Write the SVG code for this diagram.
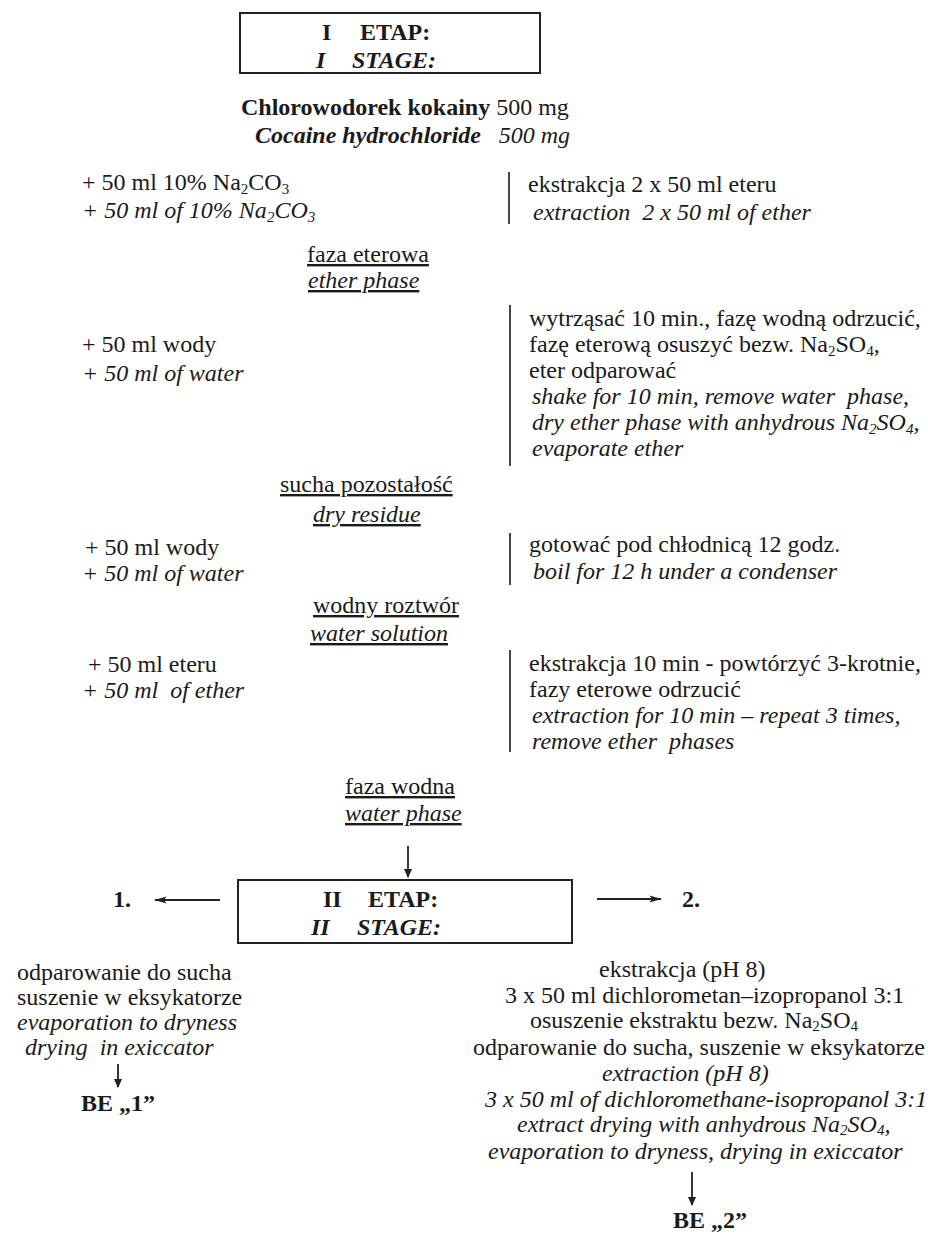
<svg xmlns="http://www.w3.org/2000/svg" width="928" height="1235" viewBox="0 0 928 1235">
<style>
text{font-family:"Liberation Serif","Times New Roman",serif;font-size:24px;fill:#1a1a1a}
.b{font-weight:bold}
.i{font-style:italic}
.u{text-decoration:underline}
.e{text-anchor:end}
.m{text-anchor:middle}
.s{font-size:15px}
.box{fill:none;stroke:#222;stroke-width:2}
.bar{stroke:#333;stroke-width:1.8}
.ln{stroke:#222;stroke-width:1.8;fill:none}
</style>
<defs>
<marker id="ah" viewBox="0 0 14 10" refX="13" refY="5" markerWidth="15" markerHeight="9" orient="auto" markerUnits="userSpaceOnUse">
<path d="M0,1 L14,5 L0,9 L3,5 Z" fill="#222"/>
</marker>
<marker id="ahs" viewBox="0 0 10 10" refX="9" refY="5" markerWidth="10" markerHeight="9" orient="auto" markerUnits="userSpaceOnUse">
<path d="M0,0.5 L10,5 L0,9.5 Z" fill="#222"/>
</marker>
</defs>
<rect width="928" height="1235" fill="#fff"/>

<g id="stage1">
<rect class="box" x="240" y="13" width="300" height="60"/>
<text class="b" x="322" y="40">I<tspan x="360">ETAP:</tspan></text>
<text class="b i" x="316" y="68">I<tspan x="352">STAGE:</tspan></text>
</g>

<g id="start">
<text x="241" y="115"><tspan class="b">Chlorowodorek kokainy</tspan> 500 mg</text>
<text class="i" x="255" y="143"><tspan class="b">Cocaine hydrochloride</tspan></text>
<text class="i e" x="570" y="143">500 mg</text>
</g>

<g id="step1">
<text x="82" y="190">+ 50 ml 10% Na<tspan class="s" dy="4">2</tspan><tspan dy="-4">CO</tspan><tspan class="s" dy="4">3</tspan></text>
<text class="i" x="82" y="218">+ 50 ml of 10% Na<tspan class="s" dy="4">2</tspan><tspan dy="-4">CO</tspan><tspan class="s" dy="4">3</tspan></text>
<line class="bar" x1="509" y1="172" x2="509" y2="224"/>
<text x="528" y="192">ekstrakcja 2 x 50 ml eteru</text>
<text class="i" x="533" y="220" xml:space="preserve">extraction  2 x 50 ml of ether</text>
</g>

<g id="ether-phase">
<text class="u" x="307" y="262">faza eterowa</text>
<text class="i u" x="308" y="288">ether phase</text>
</g>

<g id="step2">
<text x="82" y="352">+ 50 ml wody</text>
<text class="i" x="82" y="381">+ 50 ml of water</text>
<line class="bar" x1="510" y1="305" x2="510" y2="466"/>
<text x="529" y="326">wytrząsać 10 min., fazę wodną odrzucić,</text>
<text x="529" y="352">fazę eterową osuszyć bezw. Na<tspan class="s" dy="4">2</tspan><tspan dy="-4">SO</tspan><tspan class="s" dy="4">4</tspan><tspan dy="-4">,</tspan></text>
<text x="529" y="378">eter odparować</text>
<text class="i" x="532" y="404" xml:space="preserve">shake for 10 min, remove water  phase,</text>
<text class="i" x="532" y="430">dry ether phase with anhydrous Na<tspan class="s" dy="4">2</tspan><tspan dy="-4">SO</tspan><tspan class="s" dy="4">4</tspan><tspan dy="-4">,</tspan></text>
<text class="i" x="532" y="456">evaporate ether</text>
</g>

<g id="dry-residue">
<text class="u" x="280" y="492">sucha pozostałość</text>
<text class="i u" x="313" y="522">dry residue</text>
</g>

<g id="step3">
<text x="85" y="555">+ 50 ml wody</text>
<text class="i" x="82" y="581">+ 50 ml of water</text>
<line class="bar" x1="510" y1="533" x2="510" y2="585"/>
<text x="529" y="552">gotować pod chłodnicą 12 godz.</text>
<text class="i" x="533" y="579">boil for 12 h under a condenser</text>
</g>

<g id="water-solution">
<text class="u" x="313" y="613">wodny roztwór</text>
<text class="i u" x="310" y="641">water solution</text>
</g>

<g id="step4">
<text x="88" y="672">+ 50 ml eteru</text>
<text class="i" x="82" y="698" xml:space="preserve">+ 50 ml  of ether</text>
<line class="bar" x1="510" y1="650" x2="510" y2="752"/>
<text x="529" y="671">ekstrakcja 10 min - powtórzyć 3-krotnie,</text>
<text x="529" y="697">fazy eterowe odrzucić</text>
<text class="i" x="532" y="723">extraction for 10 min – repeat 3 times,</text>
<text class="i" x="532" y="749" xml:space="preserve">remove ether  phases</text>
</g>

<g id="water-phase">
<text class="u" x="345" y="794">faza wodna</text>
<text class="i u" x="345" y="821">water phase</text>
</g>

<g id="stage2">
<rect class="box" x="238" y="880" width="334" height="63"/>
<text class="b" x="323" y="907">II<tspan x="368">ETAP:</tspan></text>
<text class="b i" x="311" y="935">II<tspan x="357">STAGE:</tspan></text>
</g>

<g id="branch1">
<text class="b" x="113" y="907">1.</text>
<text x="17" y="980">odparowanie do sucha</text>
<text x="17" y="1005">suszenie w eksykatorze</text>
<text class="i" x="17" y="1030">evaporation to dryness</text>
<text class="i" x="25" y="1055" xml:space="preserve">drying  in exiccator</text>
<text class="b m" x="118" y="1111">BE „1”</text>
</g>

<g id="branch2">
<text class="b" x="682" y="907">2.</text>
<text x="599" y="977">ekstrakcja (pH 8)</text>
<text x="505" y="1003">3 x 50 ml dichlorometan–izopropanol 3:1</text>
<text x="530" y="1028">osuszenie ekstraktu bezw. Na<tspan class="s" dy="3">2</tspan><tspan dy="-3">SO</tspan><tspan class="s" dy="3">4</tspan></text>
<text x="473" y="1055" font-size="23.6">odparowanie do sucha, suszenie w eksykatorze</text>
<text class="i" x="602" y="1081">extraction (pH 8)</text>
<text class="i" x="485" y="1107">3 x 50 ml of dichloromethane-isopropanol 3:1</text>
<text class="i" x="517" y="1132">extract drying with anhydrous Na<tspan class="s" dy="3">2</tspan><tspan dy="-3">SO</tspan><tspan class="s" dy="3">4</tspan><tspan dy="-3">,</tspan></text>
<text class="i" x="488" y="1159">evaporation to dryness, drying in exiccator</text>
<text class="b" x="673" y="1228">BE „2”</text>
</g>

<g id="connectors">
<line class="ln" x1="408" y1="846" x2="408" y2="877" marker-end="url(#ahs)"/>
<line class="ln" x1="220" y1="900" x2="155" y2="900" marker-end="url(#ah)"/>
<line class="ln" x1="597" y1="899" x2="661" y2="899" marker-end="url(#ah)"/>
<line class="ln" x1="118" y1="1064" x2="118" y2="1087" marker-end="url(#ahs)"/>
<line class="ln" x1="692" y1="1172" x2="692" y2="1205" marker-end="url(#ahs)"/>
</g>
</svg>
